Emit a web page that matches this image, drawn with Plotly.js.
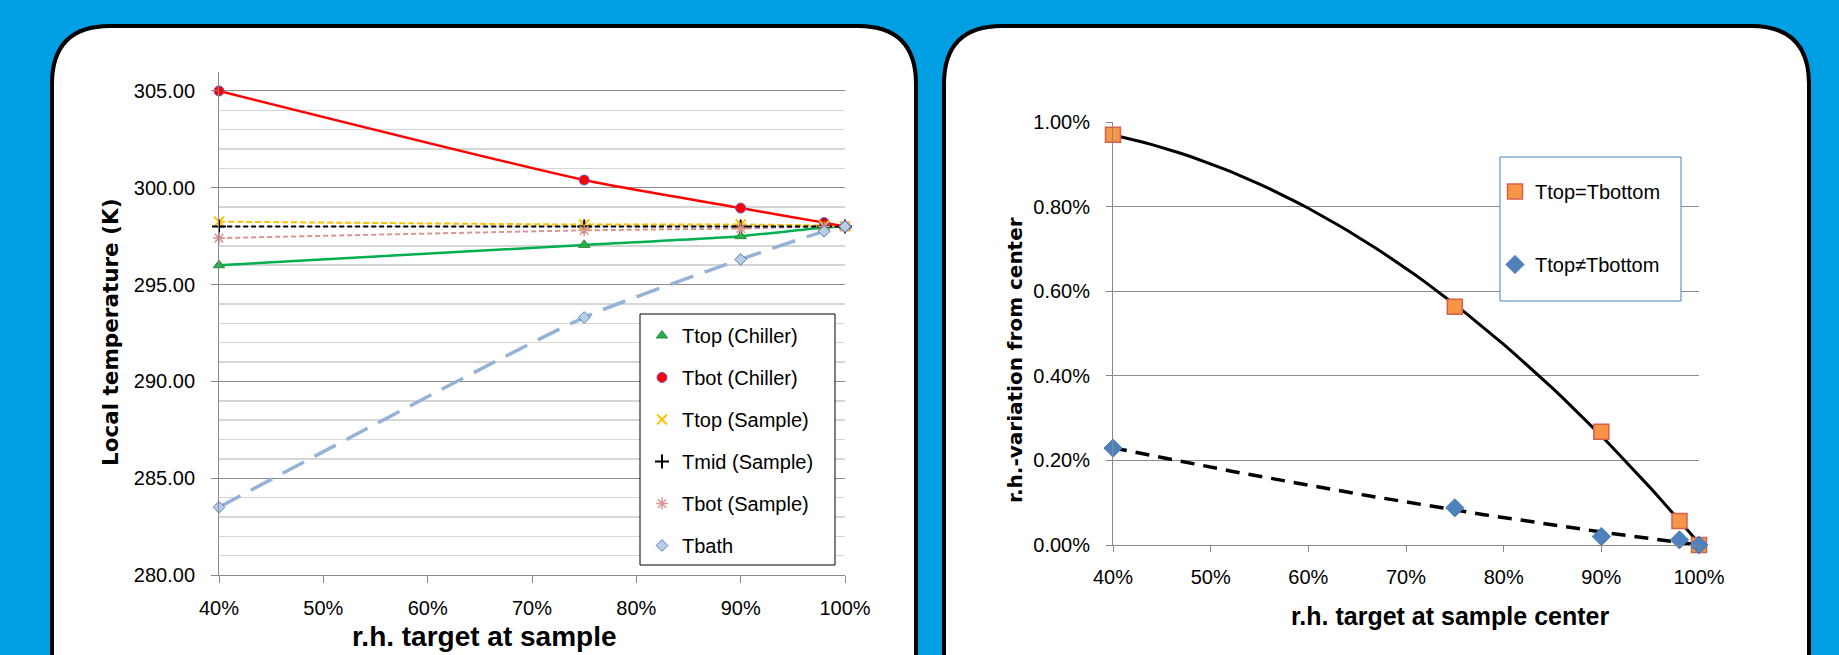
<!DOCTYPE html>
<html>
<head>
<meta charset="utf-8">
<script src="https://cdn.plot.ly/plotly-3.0.1.min.js"></script>
<style>
html,body{margin:0;padding:0;background:#009FE3;}
#chart{width:1839px;height:655px;}
</style>
</head>
<body>
<div id="chart"></div>
<script>
// ---------- data: left chart ----------
const rhTarget = [0.40, 0.75, 0.90, 0.98, 1.00];
const ttopChiller = [296.0, 297.05, 297.5, 297.95, 298.0];
const tbotChiller = [305.0, 300.4, 298.95, 298.2, 298.0];
const ttopSample = [298.25, 298.1, 298.1, 298.05, 298.0];
const tmidSample = [298.0, 298.0, 298.0, 298.0, 298.0];
const tbotSample = [297.4, 297.8, 297.9, 298.0, 298.0];
const tbath = [283.5, 293.3, 296.3, 297.75, 298.0];
const leftNames = ["Ttop (Chiller)", "Tbot (Chiller)", "Ttop (Sample)", "Tmid (Sample)", "Tbot (Sample)", "Tbath"];

// ---------- data: right chart ----------
const rhCenter = [0.40, 0.75, 0.90, 0.98, 1.00];
const varEqual = [0.0097, 0.00563, 0.00268, 0.00057, 0.0];
const varUnequal = [0.00229, 0.00088, 0.0002, 0.00012, 0.0];
const rightNames = ["Ttop=Tbottom", "Ttop\u2260Tbottom"];

// ---------- helpers ----------
const W = 1839, H = 655;
const PX = x => x / W;
const PY = y => 1 - y / H;

function quadFit(xs, ys) {
  const S = [0,0,0,0,0], T = [0,0,0];
  for (let i = 0; i < xs.length; i++) {
    for (let k = 0; k < 5; k++) S[k] += Math.pow(xs[i], k);
    for (let k = 0; k < 3; k++) T[k] += ys[i] * Math.pow(xs[i], k);
  }
  const A = [[S[0],S[1],S[2],T[0]],[S[1],S[2],S[3],T[1]],[S[2],S[3],S[4],T[2]]];
  for (let c = 0; c < 3; c++) {
    for (let r = c + 1; r < 3; r++) {
      const f = A[r][c] / A[c][c];
      for (let k = c; k < 4; k++) A[r][k] -= f * A[c][k];
    }
  }
  const sol = [0,0,0];
  for (let r = 2; r >= 0; r--) {
    let s = A[r][3];
    for (let k = r + 1; k < 3; k++) s -= A[r][k] * sol[k];
    sol[r] = s / A[r][r];
  }
  return sol;
}
function trend(xs, ys) {
  const c = quadFit(xs, ys);
  const x0 = Math.min(...xs), x1 = Math.max(...xs);
  const gx = [], gy = [];
  for (let i = 0; i <= 60; i++) {
    const x = x0 + (x1 - x0) * i / 60;
    gx.push(x); gy.push(c[0] + c[1] * x + c[2] * x * x);
  }
  return {x: gx, y: gy};
}

function panelPath(x0, y0, x1, y1, r) {
  const rx = r / W, ry = r / H;
  const L = PX(x0), R = PX(x1), T = PY(y0), B = PY(y1);
  return `M ${L} ${B} L ${L} ${T - ry} Q ${L} ${T} ${L + rx} ${T} L ${R - rx} ${T} Q ${R} ${T} ${R} ${T - ry} L ${R} ${B} Z`;
}

// ---------- traces ----------
const traces = [];
const leftSeries = [ttopChiller, tbotChiller, ttopSample, tmidSample, tbotSample, tbath];
const leftLine = [
  {color:'#00B050', width:2.5, dash:'solid'},
  {color:'#FF0000', width:2.5, dash:'solid'},
  {color:'#FFC000', width:2, dash:'6px,3px'},
  {color:'#000000', width:2, dash:'5px,3px'},
  {color:'#D99694', width:2, dash:'5px,3px'},
  {color:'#95B3D7', width:3.5, dash:'24px,12px'}
];
const leftMarker = [
  {symbol:'triangle-up', size:10, color:'#22B04B', line:{color:'#2E8B3E', width:1}},
  {symbol:'circle', size:10, color:'#FF0000', line:{color:'#6A5ACD', width:1}},
  {symbol:'x-thin-open', size:10, color:'#FFC000', line:{color:'#FFC000', width:2}},
  {symbol:'cross-thin-open', size:10, color:'#000000', line:{color:'#000000', width:2}},
  {symbol:'asterisk-open', size:10, color:'#D99694', line:{color:'#D99694', width:1.5}},
  {symbol:'diamond', size:9, color:'#B9CDE5', line:{color:'#4F81BD', width:1}}
];
// lines (drawn first, under markers)
[5,0,4,2,3,1].forEach(i => {
  traces.push({x: rhTarget, y: leftSeries[i], xaxis:'x', yaxis:'y', mode:'lines',
    line: Object.assign({shape:'spline', smoothing:0.6}, leftLine[i]), showlegend:false, hoverinfo:'skip', cliponaxis:false});
});
leftSeries.forEach((s, i) => {
  traces.push({x: rhTarget, y: s, xaxis:'x', yaxis:'y', mode:'markers', name: leftNames[i],
    marker: leftMarker[i], legend:'legend', legendgroup:'L'+i, cliponaxis:false});
});

const tEq = trend(rhCenter, varEqual);
const tUn = trend(rhCenter, varUnequal);
traces.push({x: tEq.x, y: tEq.y, xaxis:'x2', yaxis:'y2', mode:'lines', line:{color:'#000', width:3}, showlegend:false, hoverinfo:'skip', cliponaxis:false});
traces.push({x: tUn.x, y: tUn.y, xaxis:'x2', yaxis:'y2', mode:'lines', line:{color:'#000', width:3.5, dash:'14px,9px'}, showlegend:false, hoverinfo:'skip', cliponaxis:false});
traces.push({x: rhCenter, y: varEqual, xaxis:'x2', yaxis:'y2', mode:'markers', name: rightNames[0], cliponaxis:false,
  marker:{symbol:'square', size:15, color:'#F79646', line:{color:'#D6604D', width:1.5}}, legend:'legend2', legendgroup:'R0'});
traces.push({x: rhCenter, y: varUnequal, xaxis:'x2', yaxis:'y2', mode:'markers', name: rightNames[1], cliponaxis:false,
  marker:{symbol:'diamond', size:14, color:'#4F81BD', line:{color:'#4A7EBB', width:1}}, legend:'legend2', legendgroup:'R1'});

// ---------- layout ----------
const tickFont = {family:'Liberation Sans, Arial, sans-serif', size:20, color:'#000'};
const layout = {
  width: W, height: H,
  margin: {l:0, r:0, t:0, b:0},
  paper_bgcolor: '#009FE3',
  plot_bgcolor: 'rgba(0,0,0,0)',
  showlegend: true,
  xaxis: {domain:[PX(219), PX(845)], range:[0.4, 1.0], dtick:0.1, tick0:0.4, tickformat:'.0%',
    showgrid:false, zeroline:false, showline:true, linecolor:'#888', linewidth:1,
    ticks:'outside', ticklen:7, tickcolor:'#888', tickfont:tickFont, ticklabelstandoff:8, anchor:'y', fixedrange:true},
  yaxis: {domain:[PY(575), PY(71.6)], range:[280, 306], dtick:5, tick0:280, tickformat:'.2f',
    showgrid:true, gridcolor:'#8C8C8C', gridwidth:1, zeroline:false, showline:true, linecolor:'#888', linewidth:1,
    ticks:'outside', ticklen:7, tickcolor:'#888', tickfont:tickFont, ticklabelstandoff:12, anchor:'x',
    minor:{dtick:1, showgrid:true, gridcolor:'#D6D6D6', gridwidth:1.5, ticks:''}, fixedrange:true},
  xaxis2: {domain:[PX(1113), PX(1699)], range:[0.4, 1.0], dtick:0.1, tick0:0.4, tickformat:'.0%',
    showgrid:false, zeroline:false, showline:true, linecolor:'#888', linewidth:1,
    ticks:'outside', ticklen:6, tickcolor:'#888', tickfont:tickFont, ticklabelstandoff:8, anchor:'y2', fixedrange:true},
  yaxis2: {domain:[PY(545), PY(122)], range:[0, 0.01], dtick:0.002, tick0:0, tickformat:'.2%',
    showgrid:true, gridcolor:'#8C8C8C', gridwidth:1, zeroline:false, showline:true, linecolor:'#888', linewidth:1,
    ticks:'outside', ticklen:6, tickcolor:'#888', tickfont:tickFont, ticklabelstandoff:12, anchor:'x2', fixedrange:true},
  legend: {x: PX(642), y: PY(316), xanchor:'left', yanchor:'top', bgcolor:'rgba(0,0,0,0)', borderwidth:0,
    font:{family:'Liberation Sans, Arial, sans-serif', size:20, color:'#000'}, tracegroupgap:13, traceorder:'grouped'},
  legend2: {x: PX(1495), y: PY(172), xanchor:'left', yanchor:'top', bgcolor:'rgba(0,0,0,0)', borderwidth:0,
    font:{family:'Liberation Sans, Arial, sans-serif', size:20, color:'#000'}, tracegroupgap:44, traceorder:'grouped'},
  shapes: [
    {type:'path', xref:'paper', yref:'paper', path: panelPath(52, 26, 916, 720, 58), fillcolor:'#FFFFFF', line:{color:'#000', width:4}, layer:'below'},
    {type:'path', xref:'paper', yref:'paper', path: panelPath(944, 26, 1809, 720, 58), fillcolor:'#FFFFFF', line:{color:'#000', width:4}, layer:'below'},
    {type:'rect', xref:'paper', yref:'paper', x0:PX(640), x1:PX(835), y0:PY(565), y1:PY(314), fillcolor:'#FFFFFF', line:{color:'#000', width:1}, layer:'above'},
    {type:'rect', xref:'paper', yref:'paper', x0:PX(1500), x1:PX(1681), y0:PY(301), y1:PY(157), fillcolor:'#FFFFFF', line:{color:'#4A7EBB', width:1}, layer:'above'}
  ],
  annotations: [
    {text:'Local temperature (K)', xref:'paper', yref:'paper', x:PX(110), y:PY(332), xanchor:'center', yanchor:'middle', textangle:-90, showarrow:false,
      font:{family:'DejaVu Sans, Verdana, sans-serif', size:21.5, color:'#000', weight:'bold'}},
    {text:'r.h. target at sample', xref:'paper', yref:'paper', x:PX(484), y:PY(636), xanchor:'center', yanchor:'middle', showarrow:false,
      font:{family:'Liberation Sans, Arial, sans-serif', size:28, color:'#000', weight:'bold'}},
    {text:'r.h.-variation from center', xref:'paper', yref:'paper', x:PX(1015), y:PY(360), xanchor:'center', yanchor:'middle', textangle:-90, showarrow:false,
      font:{family:'DejaVu Sans, Verdana, sans-serif', size:20, color:'#000', weight:'bold'}},
    {text:'r.h. target at sample center', xref:'paper', yref:'paper', x:PX(1450), y:PY(616), xanchor:'center', yanchor:'middle', showarrow:false,
      font:{family:'Liberation Sans, Arial, sans-serif', size:25, color:'#000', weight:'bold'}}
  ]
};

Plotly.newPlot('chart', traces, layout, {staticPlot:true, displayModeBar:false});
</script>
</body>
</html>
